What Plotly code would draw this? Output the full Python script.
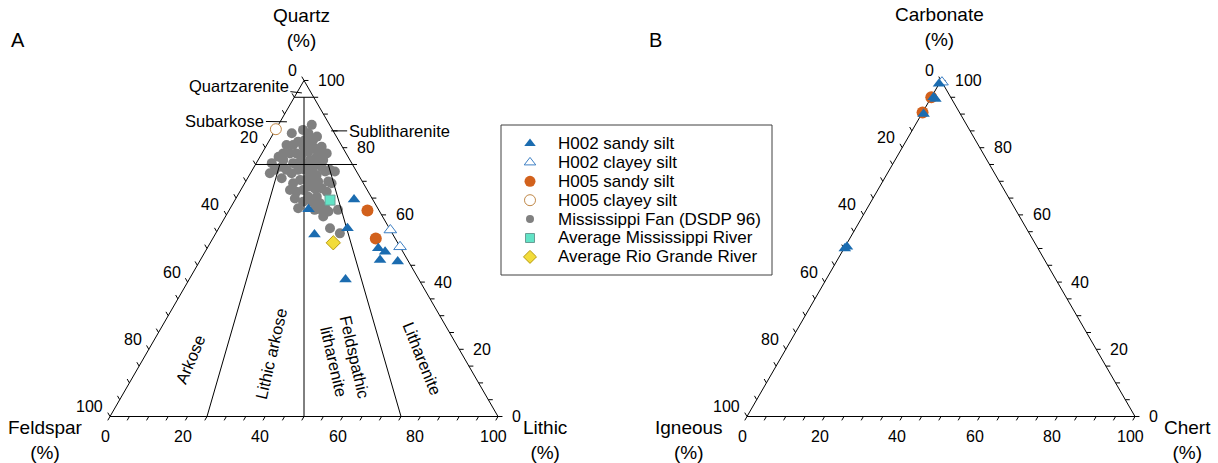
import numpy as np
import plotly.graph_objects as go

# ---------------- data ----------------
# Panel A : Quartz / Feldspar / Lithic (%)
h002_sandy_Q = [64.6, 61.7, 54.2, 56.0, 50.1, 49.0, 46.6, 46.1, 40.8]
h002_sandy_F = [4.8, 18.0, 20.2, 10.8, 5.8, 4.6, 7.1, 2.8, 18.9]
h002_sandy_L = [30.6, 20.3, 25.6, 33.2, 44.1, 46.4, 46.3, 51.1, 40.3]

h002_clayey_Q = [55.5, 50.5]
h002_clayey_F = [0.0, 0.0]
h002_clayey_L = [44.5, 49.5]

h005_sandy_Q = [61.3, 53.0]
h005_sandy_F = [3.0, 5.0]
h005_sandy_L = [35.7, 42.0]

h005_clayey_Q = [85.5]
h005_clayey_F = [14.5]
h005_clayey_L = [0.0]

miss_river_Q, miss_river_F, miss_river_L = [64.4], [11.1], [24.5]
rio_grande_Q, rio_grande_F, rio_grande_L = [51.7], [16.6], [31.7]

fan_Q = [86.8, 83.3, 84.3, 84.3, 80.8, 81.8, 80.3, 80.8, 78.3, 77.3, 78.3, 78.3, 77.8, 78.8,
         79.8, 78.3, 76.3, 76.3, 74.3, 74.3, 72.9, 73.4, 72.9, 73.4, 74.3, 73.4, 70.9, 72.4,
         73.4, 73.4, 72.4, 71.9, 69.9, 69.9, 70.4, 70.4, 69.4, 67.4, 66.9, 67.4, 68.4, 67.9,
         67.9, 69.9, 69.4, 64.9, 62.0, 65.4, 65.4, 63.5, 62.4, 61.5, 61.5, 59.5, 61.0, 61.5,
         56.0, 54.5, 63.9, 63.9, 66.9, 76.3, 75.4, 75.4, 75.8, 75.4, 77.3, 76.3, 82.3, 81.3,
         82.3, 80.3, 78.3, 85.3, 72.4]
fan_F = [4.6, 5.0, 6.7, 11.0, 12.4, 10.6, 10.0, 14.1, 16.2, 17.9, 14.5, 12.8, 11.7, 9.5,
         7.3, 6.8, 8.2, 10.3, 10.4, 8.3, 8.1, 6.6, 5.6, 20.8, 18.6, 17.8, 20.3, 17.0,
         14.8, 13.0, 12.3, 10.8, 11.4, 13.1, 14.5, 15.8, 18.1, 19.9, 18.5, 16.5, 14.7, 13.3,
         11.5, 8.8, 8.2, 19.9, 20.5, 16.2, 14.0, 14.2, 13.4, 14.7, 16.5, 15.3, 13.2, 10.5,
         15.3, 13.5, 16.1, 18.3, 10.7, 17.2, 20.6, 15.1, 13.1, 11.6, 8.1, 6.9, 6.5, 7.9,
         8.6, 5.3, 5.0, 7.6, 22.6]
fan_L = [8.6, 11.7, 9.0, 4.7, 6.8, 7.6, 9.7, 5.1, 5.5, 4.8, 7.2, 8.9, 10.5, 11.7,
         12.9, 14.9, 15.5, 13.4, 15.3, 17.4, 19.0, 20.0, 21.5, 5.8, 7.1, 8.8, 8.8, 10.6,
         11.8, 13.6, 15.3, 17.3, 18.7, 17.0, 15.1, 13.8, 12.5, 12.7, 14.6, 16.1, 16.9, 18.8,
         20.6, 21.3, 22.4, 15.2, 17.5, 18.4, 20.6, 22.3, 24.2, 23.8, 22.0, 25.2, 25.8, 28.0,
         28.7, 32.0, 20.0, 17.8, 22.4, 6.5, 4.0, 9.5, 11.1, 13.0, 14.6, 16.8, 11.2, 10.8,
         9.1, 14.4, 16.7, 7.1, 5.0]

# Panel B : Carbonate / Igneous / Chert (%)
b_h002_sandy_C = [99.0, 95.0, 94.5, 90.0, 50.0, 50.5]
b_h002_sandy_I = [1.0, 4.4, 4.2, 9.5, 49.8, 49.0]
b_h002_sandy_Ch = [0.0, 0.6, 1.3, 0.5, 0.2, 0.5]

b_h002_clayey_C, b_h002_clayey_I, b_h002_clayey_Ch = [99.5], [0.0], [0.5]

b_h005_sandy_C = [95.0, 90.5]
b_h005_sandy_I = [5.0, 9.5]
b_h005_sandy_Ch = [0.0, 0.0]

tick_values = list(range(0, 101, 5))
label_values = [0, 20, 40, 60, 80, 100]

legend_names = ["H002 sandy silt", "H002 clayey silt", "H005 sandy silt", "H005 clayey silt",
                "Mississippi Fan (DSDP 96)", "Average Mississippi River", "Average Rio Grande River"]

# ---------------- styling ----------------
W, H = 1218, 463
PX = 3.88                 # pixels per % unit
ORIG_A = (110, 416.5)     # pixel position of bottom-left corner, panel A
ORIG_B = (747, 416.5)     # panel B
S3 = np.sqrt(3) / 2
FONT = "Liberation Sans, Arial, sans-serif"
TICK_FS = 16
FIELD_FS = 16.5
TITLE_FS = 19

BLUE = "#1b6cb0"
ORANGE = "#d2611c"
GRAY = "#808080"
AQUA = "#62e3c6"
YELLOW = "#f2dc3a"


def txy(top, right):
    top = np.asarray(top, float)
    right = np.asarray(right, float)
    return right + top / 2.0, top * S3


fig = go.Figure()


def add_markers(xa, ya, top, right, symbol, size, color, line_color, line_width=1):
    x, y = txy(top, right)
    fig.add_trace(go.Scatter(x=x, y=y, mode="markers", xaxis=xa, yaxis=ya, showlegend=False,
                             hoverinfo="skip",
                             marker=dict(symbol=symbol, size=size, color=color,
                                         line=dict(color=line_color, width=line_width))))


def add_frame(xa, ya):
    cx, cy = txy([0, 0, 100, 0], [0, 100, 0, 0])
    fig.add_trace(go.Scatter(x=cx, y=cy, mode="lines", xaxis=xa, yaxis=ya, showlegend=False,
                             hoverinfo="skip", line=dict(color="black", width=1)))
    t = 1.15
    xs, ys = [], []
    for v in tick_values:
        bx, by = txy(0, v)
        xs += [float(bx), float(bx) - 0.5 * t, None]
        ys += [float(by), float(by) - S3 * t, None]
        lx, ly = txy(100 - v, 0)
        xs += [float(lx), float(lx) - 0.5 * t, None]
        ys += [float(ly), float(ly) + S3 * t, None]
        rx, ry = txy(v, 100 - v)
        xs += [float(rx), float(rx) + t, None]
        ys += [float(ry), float(ry), None]
    fig.add_trace(go.Scatter(x=xs, y=ys, mode="lines", xaxis=xa, yaxis=ya, showlegend=False,
                             hoverinfo="skip", line=dict(color="black", width=1)))


annotations = []


def tick_labels(xr, yr):
    for v in label_values:
        bx, by = txy(0, v)
        annotations.append(dict(x=float(bx), y=float(by), xref=xr, yref=yr, text=str(v),
                                showarrow=False, xanchor="center", yanchor="middle",
                                xshift=-5, yshift=-20, font=dict(size=TICK_FS, family=FONT)))
        lx, ly = txy(100 - v, 0)
        annotations.append(dict(x=float(lx), y=float(ly), xref=xr, yref=yr, text=str(v),
                                showarrow=False, xanchor="right", yanchor="middle",
                                xshift=-5, yshift=10, font=dict(size=TICK_FS, family=FONT)))
        rx, ry = txy(v, 100 - v)
        annotations.append(dict(x=float(rx), y=float(ry), xref=xr, yref=yr, text=str(v),
                                showarrow=False, xanchor="left", yanchor="middle",
                                xshift=12, yshift=0, font=dict(size=TICK_FS, family=FONT)))


def paper_text(text, px, py, size=18, **kw):
    d = dict(x=px / W, y=1 - py / H, xref="paper", yref="paper", text=text, showarrow=False,
             xanchor="center", yanchor="middle", font=dict(size=size, family=FONT, color="black"))
    d.update(kw)
    annotations.append(d)


# ---------------- Panel A ----------------
add_markers("x", "y", fan_Q, fan_L, "circle", 10, GRAY, GRAY, 0)

field_lines = [
    ((95, 0), (95, 5)),
    ((75, 0), (75, 25)),
    ((95, 2.5), (0, 50)),
    ((75, 6.25), (0, 25)),
    ((75, 18.75), (0, 75)),
]
fx, fy = [], []
for (q0, l0), (q1, l1) in field_lines:
    x0, y0 = txy(q0, l0)
    x1, y1 = txy(q1, l1)
    fx += [float(x0), float(x1), None]
    fy += [float(y0), float(y1), None]
fig.add_trace(go.Scatter(x=fx, y=fy, mode="lines", xaxis="x", yaxis="y", showlegend=False,
                         hoverinfo="skip", line=dict(color="black", width=1)))
add_frame("x", "y")

add_markers("x", "y", h002_clayey_Q, h002_clayey_L, "triangle-up", 11, "white", "#3d7fc4", 1)
add_markers("x", "y", h005_clayey_Q, h005_clayey_L, "circle", 11, "white", "#c08848", 1)
add_markers("x", "y", h005_sandy_Q, h005_sandy_L, "circle", 12, ORANGE, ORANGE, 0)
add_markers("x", "y", h002_sandy_Q, h002_sandy_L, "triangle-up", 11, BLUE, BLUE, 0)
add_markers("x", "y", miss_river_Q, miss_river_L, "square", 10, AQUA, "#6a9e96", 1)
add_markers("x", "y", rio_grande_Q, rio_grande_L, "diamond", 11, YELLOW, "#b89a10", 1)

tick_labels("x", "y")

# ---------------- Panel B ----------------
add_frame("x2", "y2")
add_markers("x2", "y2", b_h002_clayey_C, b_h002_clayey_Ch, "triangle-up", 11, "white", "#3d7fc4", 1)
add_markers("x2", "y2", b_h005_sandy_C, b_h005_sandy_Ch, "circle", 12, ORANGE, ORANGE, 0)
add_markers("x2", "y2", b_h002_sandy_C, b_h002_sandy_Ch, "triangle-up", 11, BLUE, BLUE, 0)
tick_labels("x2", "y2")


# ---------------- field names (panel A) ----------------
def leader(text, top, right, ax, ay):
    x, y = txy(top, right)
    annotations.append(dict(x=float(x), y=float(y), xref="x", yref="y", text=text,
                            showarrow=True, arrowhead=0, arrowwidth=1, arrowcolor="black",
                            ax=ax, ay=ay, standoff=0, font=dict(size=FIELD_FS, family=FONT)))


leader("Quartzarenite", 96.3, 1.3, -63, -7)
leader("Subarkose", 87.7, 1.75, -62, -1)
leader("Sublitharenite", 85.0, 14.5, 68, 0)

paper_text("Arkose", 190, 360, FIELD_FS, textangle=-67)
paper_text("Lithic arkose", 271, 354, FIELD_FS, textangle=-77)
paper_text("Feldspathic<br>litharenite", 345, 359, FIELD_FS, textangle=77)
paper_text("Litharenite", 422, 358, FIELD_FS, textangle=68)

# axis titles and panel letters
paper_text("Quartz<br>(%)", 301, 28, TITLE_FS)
paper_text("Feldspar<br>(%)", 45, 440, TITLE_FS)
paper_text("Lithic<br>(%)", 545, 440, TITLE_FS)
paper_text("Carbonate<br>(%)", 940, 27, TITLE_FS)
paper_text("Igneous<br>(%)", 689, 440, TITLE_FS)
paper_text("Chert<br>(%)", 1187, 440, TITLE_FS)
paper_text("A", 18, 40, 20)
paper_text("B", 655, 40, 20)

# ---------------- legend (manual, own axis) ----------------
LB = (501, 125, 772, 275)  # left, top, right, bottom in pixels
legend_style = [
    ("triangle-up", 10, BLUE, BLUE, 0),
    ("triangle-up", 10, "white", "#3d7fc4", 1),
    ("circle", 11, ORANGE, ORANGE, 0),
    ("circle", 11, "white", "#c08848", 1),
    ("circle", 8, GRAY, GRAY, 0),
    ("square", 9, AQUA, "#6a9e96", 1),
    ("diamond", 10, YELLOW, "#b89a10", 1),
]
row_px = 18.9
first_row = 18.5
for i, (name, (sym, sz, col, lc, lw)) in enumerate(zip(legend_names, legend_style)):
    fig.add_trace(go.Scatter(x=[29], y=[i], mode="markers", xaxis="x3", yaxis="y3",
                             showlegend=False, hoverinfo="skip",
                             marker=dict(symbol=sym, size=sz, color=col,
                                         line=dict(color=lc, width=lw))))
    annotations.append(dict(x=55, y=i, xref="x3", yref="y3", text=name, showarrow=False,
                            xanchor="left", yanchor="middle",
                            font=dict(size=17, family=FONT, color="black")))

shapes = [dict(type="rect", xref="paper", yref="paper",
               x0=LB[0] / W, x1=LB[2] / W, y0=1 - LB[3] / H, y1=1 - LB[1] / H,
               line=dict(color="#404040", width=1), fillcolor="rgba(0,0,0,0)")]

hidden = dict(visible=False, fixedrange=True)
legend_h = LB[3] - LB[1]
fig.update_layout(
    width=W, height=H, margin=dict(l=0, r=0, t=0, b=0),
    paper_bgcolor="white", plot_bgcolor="white", showlegend=False,
    xaxis=dict(domain=[0, 0.5], range=[(0 - ORIG_A[0]) / PX, (W / 2 - ORIG_A[0]) / PX], **hidden),
    yaxis=dict(domain=[0, 1], range=[-(H - ORIG_A[1]) / PX, ORIG_A[1] / PX], **hidden),
    xaxis2=dict(domain=[0.5, 1], range=[(W / 2 - ORIG_B[0]) / PX, (W - ORIG_B[0]) / PX], **hidden),
    yaxis2=dict(domain=[0, 1], range=[-(H - ORIG_B[1]) / PX, ORIG_B[1] / PX], **hidden),
    xaxis3=dict(domain=[LB[0] / W, LB[2] / W], range=[0, LB[2] - LB[0]], **hidden),
    yaxis3=dict(domain=[1 - LB[3] / H, 1 - LB[1] / H],
                range=[(legend_h - first_row) / row_px, -first_row / row_px], **hidden),
    annotations=annotations, shapes=shapes,
    font=dict(family=FONT, color="black"),
)

fig.write_html("out.html")
